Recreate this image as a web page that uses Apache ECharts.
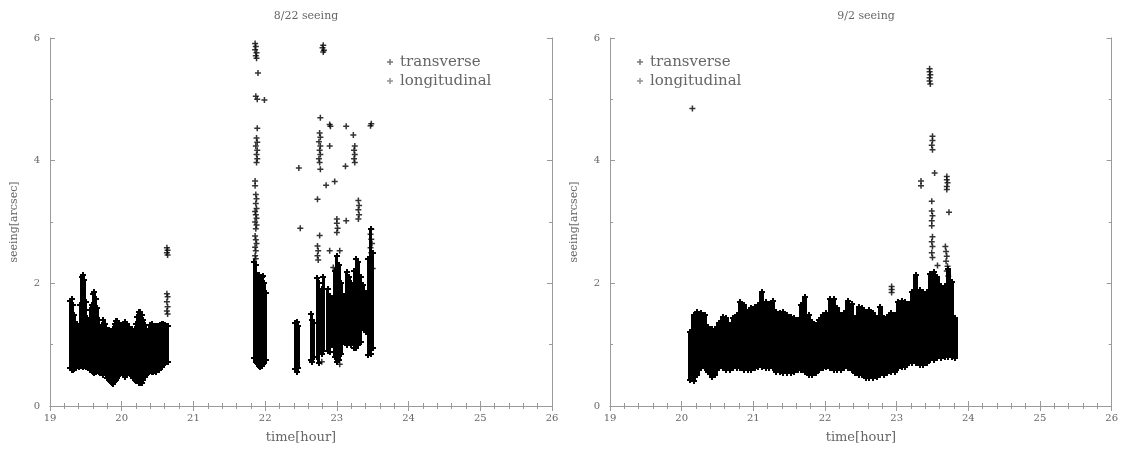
<!DOCTYPE html>
<html>
<head>
<meta charset="utf-8">
<title>seeing</title>
<script src="https://cdn.jsdelivr.net/npm/echarts@6/dist/echarts.min.js"></script>
<style>
  html, body { margin: 0; padding: 0; background: #fff; }
  #chart { width: 1121px; height: 449px; }
</style>
</head>
<body>
<div id="chart"></div>
<script>
// Panel titles and axis ticks
const panelTitles = ['8/22 seeing', '9/2 seeing'];
const hourTicks = [19, 20, 21, 22, 23, 24, 25, 26];
const seeingTicks = [0, 2, 4, 6];

// 8/22: dense runs of samples, given as time [hour] with the low / high seeing [arcsec] of each run
const leftBandTime = [
  19.28,19.30,19.32,19.34,19.36,19.38,19.40,19.42,19.44,19.46,
  19.48,19.50,19.52,19.54,19.56,19.58,19.60,19.62,19.64,19.66,
  19.68,19.70,19.72,19.74,19.76,19.78,19.80,19.82,19.84,19.86,
  19.88,19.90,19.92,19.94,19.96,19.98,20.00,20.02,20.04,20.06,
  20.08,20.10,20.12,20.14,20.16,20.18,20.20,20.22,20.24,20.26,
  20.28,20.30,20.32,20.34,20.36,20.38,20.40,20.42,20.44,20.46,
  20.48,20.50,20.52,20.54,20.56,20.58,20.60,20.62,20.64,
  21.85,21.87,21.89,21.91,21.93,21.95,21.97,21.99,22.01,
  22.42,22.44,22.46,
  22.64,22.66,22.68,22.73,22.75,22.79,22.81,22.87,22.90,22.93,
  22.97,23.00,23.03,23.06,23.10,23.14,23.17,23.20,23.24,23.27,
  23.30,23.33,23.37,23.40,23.44,23.47,23.50
];
const leftBandLow = [
  0.62,0.59,0.59,0.61,0.62,0.66,0.64,0.65,0.66,0.64,
  0.66,0.64,0.66,0.62,0.59,0.60,0.56,0.54,0.56,0.59,
  0.56,0.54,0.56,0.51,0.53,0.50,0.46,0.43,0.40,0.37,
  0.36,0.40,0.42,0.46,0.50,0.52,0.54,0.51,0.48,0.50,
  0.51,0.54,0.52,0.49,0.46,0.43,0.40,0.40,0.38,0.37,
  0.38,0.43,0.47,0.51,0.54,0.56,0.57,0.55,0.56,0.57,
  0.56,0.59,0.58,0.62,0.64,0.67,0.70,0.72,0.72,
  0.78,0.72,0.70,0.66,0.64,0.66,0.68,0.70,0.75,
  0.60,0.56,0.62,
  0.75,0.72,0.80,0.80,0.70,0.85,0.90,0.90,0.88,1.00,
  0.80,0.72,0.75,0.85,1.05,1.00,1.05,1.00,0.95,0.94,
  1.00,1.05,1.27,1.20,0.83,0.85,0.95
];
const leftBandHigh = [
  1.72,1.75,1.64,1.48,1.29,1.34,1.24,1.65,2.10,2.14,
  2.05,1.70,1.43,1.34,1.56,1.64,1.83,1.86,1.75,1.60,
  1.40,1.26,1.32,1.40,1.34,1.27,1.21,1.24,1.18,1.21,
  1.26,1.34,1.38,1.38,1.36,1.31,1.32,1.34,1.37,1.32,
  1.34,1.29,1.24,1.26,1.21,1.26,1.34,1.45,1.53,1.54,
  1.48,1.40,1.32,1.26,1.21,1.26,1.32,1.34,1.29,1.27,
  1.31,1.30,1.31,1.32,1.34,1.33,1.32,1.31,1.30,
  2.34,2.30,2.13,2.13,2.05,2.10,2.12,2.00,1.85,
  1.35,1.37,1.30,
  1.50,1.40,1.35,2.08,2.00,1.90,2.10,1.90,1.80,1.75,
  2.20,2.45,2.30,2.00,1.80,2.18,2.10,2.00,2.20,2.40,
  2.35,2.10,1.97,1.85,2.40,2.88,2.50
];

// 8/22: single samples away from the dense runs
const leftPointTime = [
  20.63,20.64,20.63,20.64,20.63,20.64,20.63,20.64,20.63,20.64,
  21.86,21.87,21.86,21.88,21.87,21.88,21.90,21.87,21.89,21.99,
  21.89,21.88,21.89,21.87,21.89,21.88,21.89,21.88,21.86,21.86,
  21.87,21.88,21.87,21.88,21.86,21.87,21.88,21.86,21.88,21.87,
  21.86,21.87,21.88,21.86,21.87,21.86,21.87,
  22.47,22.49,
  22.81,22.80,22.82,22.81,22.77,22.76,22.77,22.75,22.77,22.76,
  22.77,22.75,22.76,22.77,22.90,22.91,22.90,23.13,23.23,23.12,
  23.25,23.24,23.25,23.24,23.25,22.73,22.73,22.74,22.73,22.74,
  22.76,22.85,22.97,23.00,23.00,23.01,23.00,23.13,23.30,23.31,
  23.30,23.31,23.30,23.47,23.48,23.48,23.47,23.48,23.49,23.47,
  23.48,23.50,22.90,23.04,22.95,22.79,23.04
];
const leftPointValue = [
  2.58,2.54,2.50,2.46,1.83,1.78,1.70,1.62,1.55,1.50,
  5.91,5.86,5.81,5.76,5.71,5.67,5.43,5.05,5.00,4.99,
  4.53,4.37,4.30,4.24,4.17,4.10,4.03,3.97,3.67,3.59,
  3.45,3.38,3.30,3.22,3.17,3.12,3.06,3.00,2.95,2.89,
  2.77,2.71,2.65,2.59,2.53,2.45,2.40,
  3.88,2.90,
  5.88,5.84,5.80,5.77,4.70,4.45,4.38,4.31,4.24,4.17,
  4.10,4.03,3.97,3.86,4.59,4.56,4.24,4.56,4.42,3.91,
  4.24,4.17,4.10,4.03,3.97,3.37,2.61,2.53,2.45,2.38,
  2.78,3.60,3.66,3.05,2.98,2.90,2.83,3.02,3.35,3.27,
  3.20,3.12,3.05,4.57,4.60,2.88,2.80,2.72,2.65,2.58,
  2.50,2.24,2.53,2.53,2.26,0.72,0.68
];

// 9/2: dense run of samples
const rightBandTime = [
  20.12,20.17,20.22,20.27,20.32,20.37,20.42,20.47,20.52,20.57,
  20.62,20.67,20.72,20.77,20.82,20.87,20.92,20.97,21.02,21.07,
  21.12,21.17,21.22,21.27,21.32,21.37,21.42,21.47,21.52,21.57,
  21.62,21.67,21.72,21.77,21.82,21.87,21.92,21.97,22.02,22.07,
  22.12,22.17,22.22,22.27,22.32,22.37,22.42,22.47,22.52,22.57,
  22.62,22.67,22.72,22.77,22.82,22.87,22.92,22.97,23.02,23.07,
  23.12,23.17,23.22,23.27,23.32,23.37,23.42,23.47,23.52,23.57,
  23.62,23.67,23.72,23.77,23.82
];
const rightBandLow = [
  0.42,0.40,0.51,0.62,0.62,0.56,0.48,0.51,0.62,0.62,
  0.59,0.59,0.62,0.62,0.62,0.59,0.59,0.59,0.62,0.64,
  0.64,0.62,0.62,0.62,0.56,0.56,0.54,0.54,0.54,0.56,
  0.59,0.59,0.56,0.51,0.51,0.54,0.59,0.62,0.64,0.62,
  0.59,0.59,0.59,0.62,0.62,0.59,0.54,0.51,0.51,0.45,
  0.45,0.45,0.48,0.51,0.51,0.54,0.56,0.56,0.62,0.64,
  0.64,0.70,0.70,0.70,0.67,0.67,0.70,0.75,0.75,0.78,
  0.78,0.80,0.80,0.80,0.78
];
const rightBandHigh = [
  1.20,1.48,1.53,1.51,1.48,1.29,1.26,1.26,1.35,1.45,
  1.43,1.32,1.43,1.48,1.70,1.64,1.53,1.59,1.61,1.64,
  1.86,1.70,1.67,1.72,1.53,1.51,1.53,1.48,1.45,1.43,
  1.40,1.64,1.78,1.48,1.37,1.32,1.40,1.48,1.51,1.75,
  1.75,1.59,1.48,1.51,1.72,1.67,1.43,1.61,1.59,1.53,
  1.56,1.51,1.43,1.61,1.43,1.45,1.51,1.48,1.70,1.72,
  1.70,1.67,1.86,2.13,1.89,1.86,1.86,2.16,2.18,2.10,
  1.95,1.95,2.24,2.02,1.43
];

// 9/2: single samples away from the dense run
const rightPointTime = [
  20.15,22.93,22.93,22.93,
  23.46,23.46,23.47,23.46,23.46,23.47,
  23.50,23.50,23.49,23.50,23.53,23.34,23.34,
  23.70,23.70,23.71,23.70,23.70,23.73,
  23.49,23.49,23.50,23.49,23.49,
  23.50,23.49,23.50,23.49,23.50,23.57,
  23.68,23.69,23.70,23.69,23.71,23.70,23.72
];
const rightPointValue = [
  4.85,1.95,1.90,1.85,
  5.50,5.45,5.40,5.35,5.30,5.25,
  4.40,4.33,4.25,4.18,3.80,3.67,3.59,
  3.74,3.69,3.64,3.58,3.53,3.16,
  3.34,3.18,3.10,3.02,2.94,
  2.76,2.68,2.60,2.50,2.42,2.29,
  2.60,2.52,2.44,2.36,2.28,2.20,2.12
];

const SERIF = '"DejaVu Serif", "Liberation Serif", serif';
const PLUS = 'path://M-1,-4H1V-1H4V1H1V4H-1V1H-4V-1H-1Z';
const FRAME = '#9a9a9a';
const TEXT = '#666';

const grids = [
  { left: 50, right: 569, top: 38, bottom: 41 },
  { left: 610, right: 9, top: 38, bottom: 41 }
];

function zip(a, b, c) {
  return a.map((v, i) => c ? [v, b[i], c[i]] : [v, b[i]]);
}

// a "+" mark centred on (cx, cy)
function plusMark(cx, cy, r) {
  return [
    { type: 'rect', shape: { x: cx - r, y: cy - 1, width: 2 * r, height: 2 }, style: { fill: '#000' } },
    { type: 'rect', shape: { x: cx - 1, y: cy - r, width: 2, height: 2 * r }, style: { fill: '#000' } }
  ];
}

// a vertical stroke from the low to the high value of a run, capped by "+" marks
function bandRenderer(width) {
  return function (params, api) {
    const t = api.value(0);
    const lo = api.coord([t, api.value(1)]);
    const hi = api.coord([t, api.value(2)]);
    const x0 = Math.round(lo[0] - width / 2);
    const children = [{
      type: 'rect',
      shape: { x: x0, y: Math.round(hi[1]), width: width, height: Math.round(lo[1]) - Math.round(hi[1]) },
      style: { fill: '#000' }
    }].concat(plusMark(Math.round(hi[0]), Math.round(hi[1]), 3), plusMark(Math.round(lo[0]), Math.round(lo[1]), 3));
    return { type: 'group', children: children };
  };
}

const xAxes = [], yAxes = [];
grids.forEach((g, gi) => {
  const base = {
    gridIndex: gi, type: 'value', min: hourTicks[0], max: hourTicks[hourTicks.length - 1], interval: 1,
    axisLine: { show: true, lineStyle: { color: FRAME, width: 1 } },
    axisTick: { show: true, inside: true, length: 5, lineStyle: { color: FRAME } },
    minorTick: { show: true, splitNumber: 5, length: 3, lineStyle: { color: FRAME } },
    splitLine: { show: false }
  };
  xAxes.push(Object.assign({}, base, {
    position: 'bottom',
    name: 'time[hour]', nameLocation: 'middle', nameGap: 25,
    nameTextStyle: { fontFamily: SERIF, fontSize: 13, color: TEXT },
    axisLabel: { show: true, margin: 7, fontFamily: SERIF, fontSize: 10, color: TEXT,
      formatter: v => hourTicks.includes(v) ? String(v) : '' }
  }));
  xAxes.push(Object.assign({}, base, { position: 'top', axisLabel: { show: false } }));

  const ybase = {
    gridIndex: gi, type: 'value', min: seeingTicks[0], max: seeingTicks[seeingTicks.length - 1], interval: 2,
    axisLine: { show: true, lineStyle: { color: FRAME, width: 1 } },
    axisTick: { show: true, inside: true, length: 5, lineStyle: { color: FRAME } },
    minorTick: { show: true, splitNumber: 2, length: 3, lineStyle: { color: FRAME } },
    splitLine: { show: false }
  };
  yAxes.push(Object.assign({}, ybase, {
    position: 'left',
    name: 'seeing[arcsec]', nameLocation: 'middle', nameGap: 30, nameRotate: 90,
    nameTextStyle: { fontFamily: SERIF, fontSize: 11, color: TEXT },
    axisLabel: { show: true, margin: 10, fontFamily: SERIF, fontSize: 10, color: TEXT,
      formatter: v => seeingTicks.includes(v) ? String(v) : '' }
  }));
  yAxes.push(Object.assign({}, ybase, { position: 'right', axisLabel: { show: false } }));
});

const panels = [
  { band: zip(leftBandTime, leftBandLow, leftBandHigh), points: zip(leftPointTime, leftPointValue), width: 3 },
  { band: zip(rightBandTime, rightBandLow, rightBandHigh), points: zip(rightPointTime, rightPointValue), width: 5 }
];

const series = [];
panels.forEach((p, gi) => {
  series.push({
    name: 'transverse', type: 'custom', xAxisIndex: gi * 2, yAxisIndex: gi * 2,
    renderItem: bandRenderer(p.width), data: p.band, encode: { x: 0, y: [1, 2] },
    itemStyle: { color: '#000' }, clip: true, silent: true
  });
  series.push({
    name: 'longitudinal', type: 'scatter', xAxisIndex: gi * 2, yAxisIndex: gi * 2,
    data: p.points, symbol: PLUS, symbolSize: 6,
    itemStyle: { color: '#000' }, clip: true, silent: true
  });
});

const legendBase = {
  orient: 'vertical', itemWidth: 6, itemHeight: 6, itemGap: 3, selectedMode: false,
  textStyle: { fontFamily: SERIF, fontSize: 15, lineHeight: 16, color: TEXT, padding: [0, 0, 0, 2] },
  data: [
    { name: 'transverse', icon: PLUS, itemStyle: { color: '#777' } },
    { name: 'longitudinal', icon: PLUS, itemStyle: { color: '#777' } }
  ]
};

const chart = echarts.init(document.getElementById('chart'), null, { renderer: 'canvas' });
chart.setOption({
  animation: false,
  backgroundColor: '#fff',
  title: panelTitles.map((t, i) => ({
    text: t, left: i === 0 ? 301 : 861, top: 6, textAlign: 'center',
    textStyle: { fontFamily: SERIF, fontSize: 11, fontWeight: 'normal', color: TEXT }
  })),
  legend: [
    Object.assign({}, legendBase, { left: 382, top: 49 }),
    Object.assign({}, legendBase, { left: 632, top: 49 })
  ],
  grid: grids,
  xAxis: xAxes,
  yAxis: yAxes,
  series: series
});
</script>
</body>
</html>
